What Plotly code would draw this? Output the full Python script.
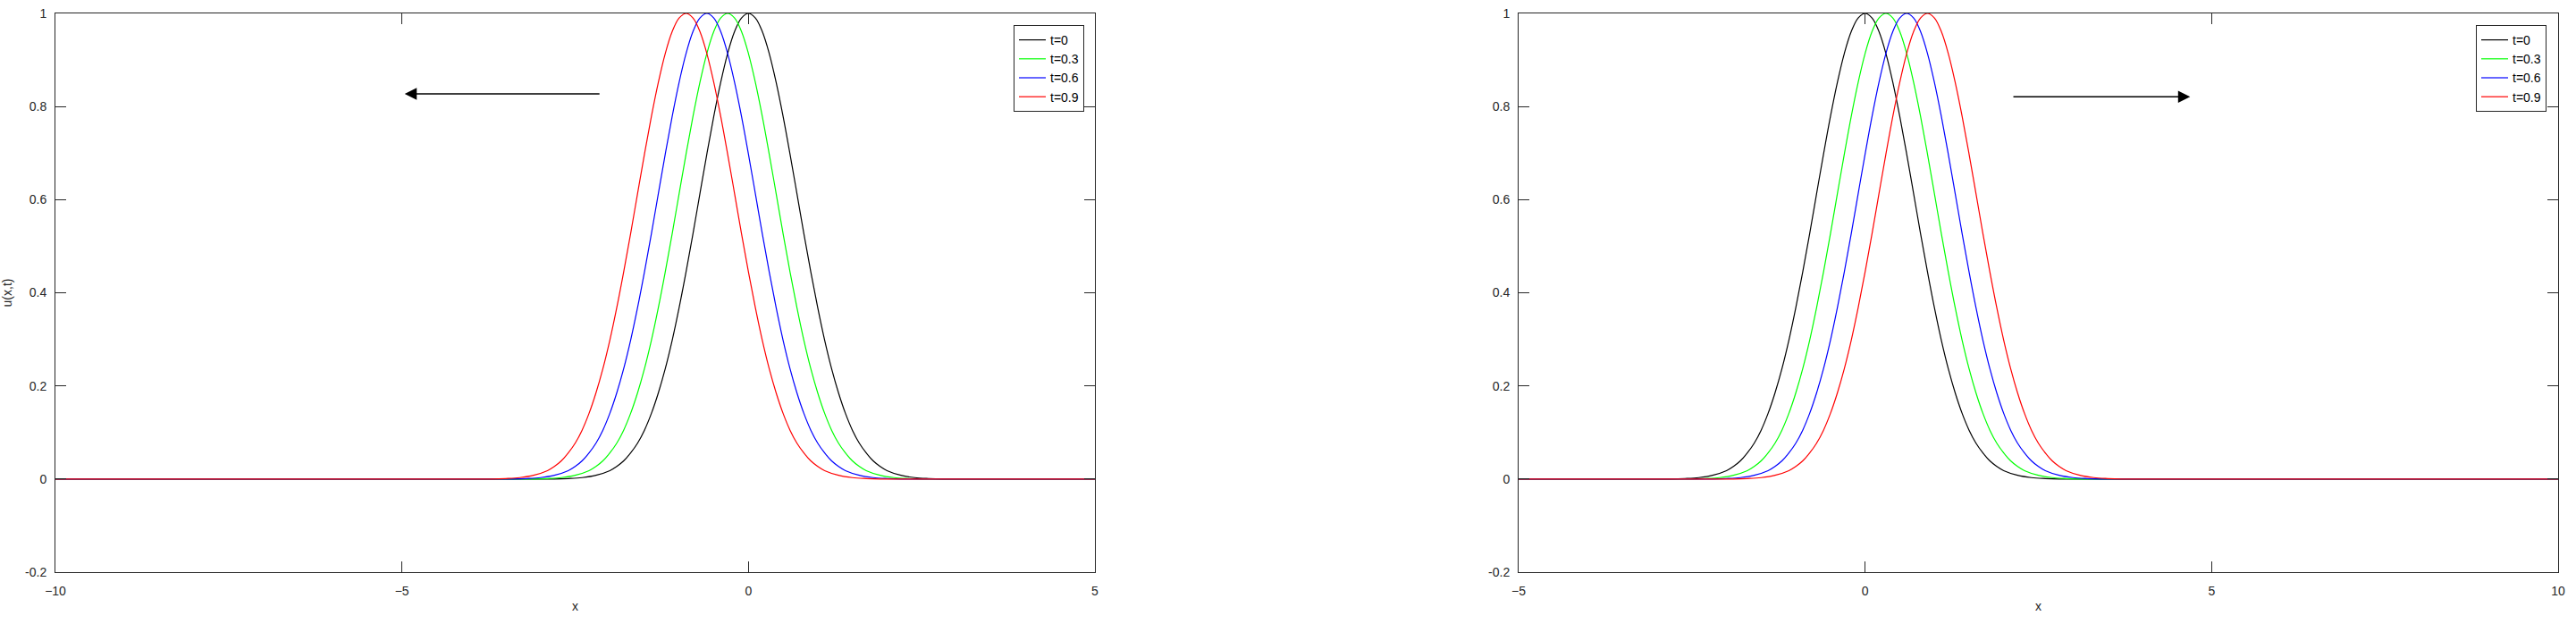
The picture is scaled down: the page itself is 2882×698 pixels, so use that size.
import plotly.graph_objects as go

# Profile of the pulse (offset from its centre, height)
profile_dx = [-3.0, -2.8, -2.6, -2.4, -2.2, -2.0, -1.9, -1.8, -1.7, -1.6, -1.5, -1.4, -1.3,
              -1.2, -1.1, -1.0, -0.9, -0.8, -0.7, -0.6, -0.5, -0.4, -0.3, -0.2, -0.1, 0.0,
              0.1, 0.2, 0.3, 0.4, 0.5, 0.6, 0.7, 0.8, 0.9, 1.0, 1.1, 1.2, 1.3, 1.4, 1.5,
              1.6, 1.7, 1.8, 1.9, 2.0, 2.2, 2.4, 2.6, 2.8, 3.0]
profile_u = [0.000, 0.000, 0.001, 0.003, 0.008, 0.018, 0.027, 0.039, 0.056, 0.077, 0.105,
             0.141, 0.185, 0.237, 0.298, 0.368, 0.445, 0.527, 0.613, 0.698, 0.779, 0.852,
             0.914, 0.961, 0.990, 1.000, 0.990, 0.961, 0.914, 0.852, 0.779, 0.698, 0.613,
             0.527, 0.445, 0.368, 0.298, 0.237, 0.185, 0.141, 0.105, 0.077, 0.056, 0.039,
             0.027, 0.018, 0.008, 0.003, 0.001, 0.000, 0.000]

labels = ["t=0", "t=0.3", "t=0.6", "t=0.9"]
colors = ["#000000", "#00ff00", "#0000ff", "#ff0000"]
centers_left = [0.0, -0.3, -0.6, -0.9]
centers_right = [0.0, 0.3, 0.6, 0.9]

x_range_left = [-10, 5]
x_range_right = [-5, 10]
y_range = [-0.2, 1]
x_ticks_left = [-10, -5, 0, 5]
x_ticks_right = [-5, 0, 5, 10]
y_ticks = [-0.2, 0, 0.2, 0.4, 0.6, 0.8, 1]
y_ticktext = ["-0.2", "0", "0.2", "0.4", "0.6", "0.8", "1"]

# arrows: (tail x, head x, y)
arrow_left = (-2.13, -4.96, 0.827)
arrow_right = (2.12, 4.69, 0.821)

FONT = "Liberation Sans, Arial, sans-serif"
AX = "#262626"

fig = go.Figure()


def add_set(centers, xr, xa, ya, legend):
    for lab, col, c in zip(labels, colors, centers):
        xs = [xr[0]] + [c + d for d in profile_dx] + [xr[1]]
        us = [0.0] + list(profile_u) + [0.0]
        fig.add_trace(go.Scatter(x=xs, y=us, mode="lines", name=lab,
                                 line=dict(color=col, width=1.2, shape="spline"),
                                 xaxis=xa, yaxis=ya, legend=legend))


add_set(centers_left, x_range_left, "x", "y", "legend")
add_set(centers_right, x_range_right, "x2", "y2", "legend2")

axis_common = dict(showline=True, linecolor=AX, linewidth=1, mirror="allticks",
                   ticks="inside", ticklen=12, tickcolor=AX, tickwidth=1,
                   showgrid=False, zeroline=False, automargin=False,
                   tickfont=dict(family=FONT, size=14, color=AX))

W, H = 2882, 698
dom_y = [1 - 640 / H, 1 - 15 / H]
tfont = dict(family=FONT, size=14, color=AX)

fig.update_layout(
    width=W, height=H,
    margin=dict(l=0, r=0, t=0, b=0),
    paper_bgcolor="white", plot_bgcolor="white",
    font=dict(family=FONT, size=14, color=AX),
    xaxis=dict(domain=[62 / W, 1225 / W], range=x_range_left, tickvals=x_ticks_left,
               anchor="y", ticklabelstandoff=8,
               title=dict(text="x", font=tfont, standoff=5), **axis_common),
    yaxis=dict(domain=dom_y, range=y_range, tickvals=y_ticks, ticktext=y_ticktext,
               anchor="x", ticklabelstandoff=6,
               title=dict(text="u(x,t)", font=tfont, standoff=11), **axis_common),
    xaxis2=dict(domain=[1699 / W, 2862 / W], range=x_range_right, tickvals=x_ticks_right,
                anchor="y2", ticklabelstandoff=8,
                title=dict(text="x", font=tfont, standoff=5), **axis_common),
    yaxis2=dict(domain=dom_y, range=y_range, tickvals=y_ticks, ticktext=y_ticktext,
                anchor="x2", ticklabelstandoff=6, **axis_common),
    legend=dict(x=1213 / W, y=1 - 28 / H, xanchor="right", yanchor="top",
                bgcolor="white", bordercolor=AX, borderwidth=1,
                font=dict(family=FONT, size=14, color="#000000"),
                tracegroupgap=0, itemwidth=30),
    legend2=dict(x=2849 / W, y=1 - 28 / H, xanchor="right", yanchor="top",
                 bgcolor="white", bordercolor=AX, borderwidth=1,
                 font=dict(family=FONT, size=14, color="#000000"),
                 tracegroupgap=0, itemwidth=30),
    showlegend=True,
)

for (tail, head, yv), xr, yr in [(arrow_left, "x", "y"), (arrow_right, "x2", "y2")]:
    fig.add_annotation(x=head, y=yv, ax=tail, ay=yv, xref=xr, yref=yr, axref=xr, ayref=yr,
                       text="", showarrow=True, arrowhead=2, arrowsize=1.8, arrowwidth=1.5,
                       arrowcolor="#000000")

fig.write_html("out.html", config={"displayModeBar": False},
               post_script="document.body.style.margin='0';")
